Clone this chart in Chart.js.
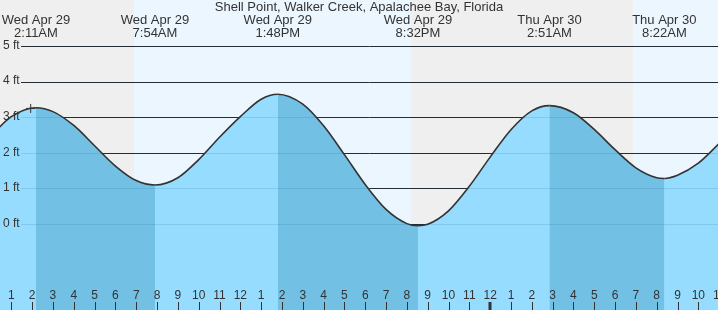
<!DOCTYPE html>
<html>
<head>
<meta charset="utf-8">
<script src="https://cdn.jsdelivr.net/npm/chart.js@4/dist/chart.umd.min.js"></script>
<style>
  html, body { margin: 0; padding: 0; background: #fff; }
  #wrap { width: 718px; height: 310px; }
</style>
</head>
<body>
<div id="wrap"><canvas id="c" width="718" height="310"></canvas></div>
<script>
// ---- data (hours counted from midnight at the start of Wed Apr 29) ----
const titleText = 'Shell Point, Walker Creek, Apalachee Bay, Florida';

const hourlyTimes = [0, 1, 3, 4, 5, 6, 7, 9, 10, 11, 12, 13, 15, 16, 17, 18, 19, 20, 21, 22, 23, 24, 25, 26, 28, 29, 30, 31, 32, 33, 34, 35];
const hourlyFeet  = [2.48, 3.03, 3.17, 2.78, 2.21, 1.64, 1.23, 1.31, 1.82, 2.45, 3.03, 3.52, 3.38, 2.77, 1.96, 1.12, 0.42, 0.02, 0.00, 0.38, 1.07, 1.89, 2.66, 3.19, 3.14, 2.67, 2.10, 1.59, 1.31, 1.38, 1.72, 2.27];

const extremeTimes  = [2.183, 7.9, 13.8, 20.533, 26.85, 32.367];
const extremeFeet   = [3.28, 1.105, 3.66, -0.04, 3.34, 1.29];
const extremeDays   = ['Wed Apr 29', 'Wed Apr 29', 'Wed Apr 29', 'Wed Apr 29', 'Thu Apr 30', 'Thu Apr 30'];
const extremeClocks = ['2:11AM', '7:54AM', '1:48PM', '8:32PM', '2:51AM', '8:22AM'];

const nowTime = [1.93];
const nowFeet = [3.26];

const dayStarts = [6.9, 30.86];
const dayEnds   = [20.2, 36];

const yTickValues = [0, 1, 2, 3, 4, 5];
const yTickLabels = ['0 ft', '1 ft', '2 ft', '3 ft', '4 ft', '5 ft'];

const hourTickValues = [0, 1, 2, 3, 4, 5, 6, 7, 8, 9, 10, 11, 12, 13, 14, 15, 16, 17, 18, 19, 20, 21, 22, 23, 24, 25, 26, 27, 28, 29, 30, 31, 32, 33, 34, 35];
const hourTickLabels = ['12', '1', '2', '3', '4', '5', '6', '7', '8', '9', '10', '11', '12', '1', '2', '3', '4', '5', '6', '7', '8', '9', '10', '11', '12', '1', '2', '3', '4', '5', '6', '7', '8', '9', '10', '11'];

// ---- build the curve table ----
const curve = [];
hourlyTimes.forEach((t, i) => curve.push({x: t, y: hourlyFeet[i]}));
extremeTimes.forEach((t, i) => curve.push({x: t, y: extremeFeet[i]}));
curve.sort((a, b) => a.x - b.x);

const FONT = '"Liberation Sans", Arial, sans-serif';
const TEXT = '#333333';
const NIGHT = '#efefef';
const DAY = '#ecf6ff';
const RISING = '#96dcfe';
const FALLING = '#72c1e5';

const tidePlugin = {
  id: 'tide',
  beforeDraw(chart) {
    const {ctx, chartArea: a, scales: {x}} = chart;
    ctx.save();
    ctx.fillStyle = NIGHT;
    ctx.fillRect(a.left, a.top, a.width, a.height);
    ctx.fillStyle = DAY;
    dayStarts.forEach((s, i) => {
      const x0 = Math.round(x.getPixelForValue(s));
      const x1 = Math.round(x.getPixelForValue(dayEnds[i]));
      ctx.fillRect(x0, a.top, x1 - x0, a.height);
    });
    ctx.restore();
  },
  beforeDatasetsDraw(chart) {
    const {ctx, chartArea: a, scales: {y}} = chart;
    ctx.save();
    ctx.strokeStyle = '#2a2a2a';
    ctx.lineWidth = 1;
    yTickValues.forEach(v => {
      const py = Math.floor(y.getPixelForValue(v)) + 0.5;
      ctx.beginPath();
      ctx.moveTo(21, py);
      ctx.lineTo(a.right, py);
      ctx.stroke();
    });
    ctx.restore();
  },
  afterDatasetsDraw(chart) {
    const {ctx, chartArea: a, scales: {x, y}} = chart;
    ctx.save();
    // faint grid lines visible through the water
    ctx.strokeStyle = 'rgba(0,70,130,0.13)';
    ctx.lineWidth = 1;
    yTickValues.forEach(v => {
      const py = Math.floor(y.getPixelForValue(v)) + 0.5;
      ctx.beginPath();
      ctx.moveTo(21, py);
      ctx.lineTo(a.right, py);
      ctx.stroke();
    });
    // y labels
    ctx.fillStyle = TEXT;
    ctx.font = '12px ' + FONT;
    ctx.textAlign = 'left';
    ctx.textBaseline = 'middle';
    yTickValues.forEach((v, i) => {
      ctx.fillText(yTickLabels[i], 3, y.getPixelForValue(v) - 1);
    });
    // hour labels + ticks
    ctx.textAlign = 'center';
    ctx.textBaseline = 'alphabetic';
    ctx.strokeStyle = TEXT;
    hourTickValues.forEach((h, i) => {
      const px = x.getPixelForValue(h);
      ctx.fillText(hourTickLabels[i], px, 299);
      const midnight = hourTickLabels[i] === '12' && (h % 24 === 0);
      ctx.lineWidth = midnight ? 3 : 1;
      const lx = midnight ? Math.round(px) : Math.round(px) + 0.5;
      ctx.beginPath();
      ctx.moveTo(lx, 302);
      ctx.lineTo(lx, a.bottom);
      ctx.stroke();
    });
    // high / low labels
    ctx.font = '13px ' + FONT;
    extremeTimes.forEach((t, i) => {
      const px = x.getPixelForValue(t);
      ctx.fillText(extremeDays[i], px, 24);
      ctx.fillText(extremeClocks[i], px, 37);
    });
    // title
    ctx.fillText(titleText, (a.left + a.right) / 2, 10.5);
    ctx.restore();
  }
};

new Chart(document.getElementById('c'), {
  type: 'line',
  data: {
    datasets: [
      {
        data: curve,
        borderWidth: 0,
        borderColor: 'rgba(0,0,0,0)',
        pointRadius: 0,
        pointHoverRadius: 0,
        cubicInterpolationMode: 'monotone',
        fill: 'start',
        backgroundColor: RISING,
        order: 3
      },
      {
        data: curve,
        borderColor: '#333333',
        borderWidth: 1.6,
        pointRadius: 0,
        pointHoverRadius: 0,
        cubicInterpolationMode: 'monotone',
        fill: 'start',
        backgroundColor: 'rgba(0,0,0,0)',
        segment: {
          backgroundColor: c => (c.p1.parsed.y < c.p0.parsed.y ? FALLING : 'rgba(0,0,0,0)')
        },
        order: 2
      },
      {
        data: nowTime.map((t, i) => ({x: t, y: nowFeet[i]})),
        showLine: false,
        pointStyle: 'cross',
        pointRadius: 4.5,
        pointHoverRadius: 4.5,
        pointBorderColor: '#333333',
        pointBorderWidth: 1,
        fill: false,
        order: 1
      }
    ]
  },
  options: {
    responsive: false,
    animation: false,
    devicePixelRatio: 1,
    layout: { padding: 0, autoPadding: false },
    plugins: { legend: { display: false }, tooltip: { enabled: false }, title: { display: false } },
    scales: {
      x: { type: 'linear', min: 0.456, max: 34.945, display: false },
      y: { type: 'linear', min: -2.41, max: 6.31, display: false }
    }
  },
  plugins: [tidePlugin]
});
</script>
</body>
</html>
